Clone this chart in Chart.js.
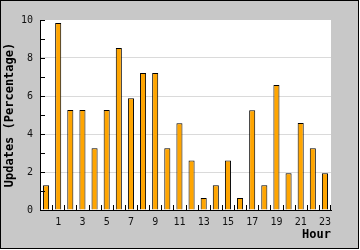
<!DOCTYPE html>
<html>
<head>
<meta charset="utf-8">
<script src="https://cdn.jsdelivr.net/npm/chart.js@4.4.0/dist/chart.umd.min.js"></script>
<style>
html,body{margin:0;padding:0;background:#fff;}
#wrap{width:360px;height:250px;}
</style>
</head>
<body>
<div id="wrap"><canvas id="c" width="360" height="250"></canvas></div>
<script>
const hours = ['0','1','2','3','4','5','6','7','8','9','10','11','12','13','14','15','16','17','18','19','20','21','22','23'];
const xTickLabels = ['','1','','3','','5','','7','','9','','11','','13','','15','','17','','19','','21','','23'];
const updates = [1.3, 9.84, 5.26, 5.26, 3.25, 5.26, 8.53, 5.88, 7.21, 7.21, 3.25, 4.57, 2.61, 0.63, 1.3, 2.61, 0.63, 5.25, 1.3, 6.58, 1.93, 4.58, 3.25, 1.93];
const yTickLabels = ['0','','2','','4','','6','','8','','10'];
const yGridValues = [2, 4, 6, 8];

const framePlugin = {
  id: 'frame',
  beforeDraw(chart) {
    const ctx = chart.ctx, a = chart.chartArea;
    ctx.save();
    ctx.fillStyle = '#ffffff';
    ctx.fillRect(0, 0, chart.width, chart.height);
    ctx.fillStyle = '#c8c8c8';
    ctx.fillRect(0, 0, 359, 249);
    ctx.strokeStyle = '#000000';
    ctx.lineWidth = 1;
    ctx.strokeRect(0.5, 0.5, 358, 248);
    ctx.fillStyle = '#ffffff';
    ctx.fillRect(a.left, a.top, a.right - a.left, a.bottom - a.top);
    ctx.restore();
  },
  afterDraw(chart) {
    const ctx = chart.ctx, a = chart.chartArea;
    const xs = chart.scales.x, ys = chart.scales.y;
    ctx.save();
    ctx.strokeStyle = '#000000';
    ctx.lineWidth = 1;
    ctx.beginPath();
    // y ticks pointing inward
    ys.ticks.forEach(t => {
      const py = Math.round(ys.getPixelForValue(t.value)) + 0.5;
      ctx.moveTo(a.left, py);
      ctx.lineTo(a.left + 5, py);
    });
    // x ticks at category boundaries pointing upward
    const n = hours.length;
    for (let i = 1; i <= n; i++) {
      let px;
      if (i < n) px = (xs.getPixelForValue(i - 1) + xs.getPixelForValue(i)) / 2;
      else px = a.right - 1;
      px = Math.round(px) + 0.5;
      ctx.moveTo(px, a.bottom);
      ctx.lineTo(px, a.bottom - 5);
    }
    ctx.stroke();
    ctx.restore();
  }
};

new Chart(document.getElementById('c'), {
  type: 'bar',
  data: {
    labels: hours,
    datasets: [{
      data: updates,
      backgroundColor: '#ffa500',
      borderColor: '#000000',
      borderWidth: 1,
      borderSkipped: 'bottom',
      barPercentage: 0.5,
      categoryPercentage: 1.0
    }]
  },
  options: {
    responsive: false,
    animation: false,
    devicePixelRatio: 1,
    layout: { padding: { left: 0, top: 20, right: 29, bottom: 0 } },
    plugins: { legend: { display: false }, tooltip: { enabled: false } },
    scales: {
      x: {
        grid: { display: false, drawTicks: false },
        border: { display: true, color: '#000000', width: 1 },
        ticks: {
          autoSkip: false,
          maxRotation: 0,
          padding: 6,
          color: '#111',
          font: { family: 'DejaVu Sans Mono', size: 10 },
          callback: (v, i) => xTickLabels[i]
        },
        title: {
          display: true,
          text: 'Hour',
          align: 'end',
          color: '#000',
          font: { family: 'DejaVu Sans Mono', size: 12, weight: 'bold' },
          padding: { top: 0, bottom: 8 }
        },
        afterFit(s) { s.height = 40; }
      },
      y: {
        min: 0,
        max: 10,
        grid: {
          drawTicks: false,
          color: ctx => yGridValues.includes(ctx.tick.value) ? '#dadada' : 'rgba(0,0,0,0)',
          lineWidth: 1
        },
        border: { display: true, color: '#000000', width: 1 },
        ticks: {
          stepSize: 1,
          padding: 7,
          color: '#111',
          font: { family: 'DejaVu Sans Mono', size: 10 },
          callback: (v, i) => yTickLabels[i]
        },
        title: {
          display: true,
          text: 'Updates (Percentage)',
          color: '#000',
          font: { family: 'DejaVu Sans Mono', size: 12, weight: 'bold' },
          padding: { top: 3, bottom: 0 }
        },
        afterFit(s) { s.width = 40; }
      }
    }
  },
  plugins: [framePlugin]
});
</script>
</body>
</html>
